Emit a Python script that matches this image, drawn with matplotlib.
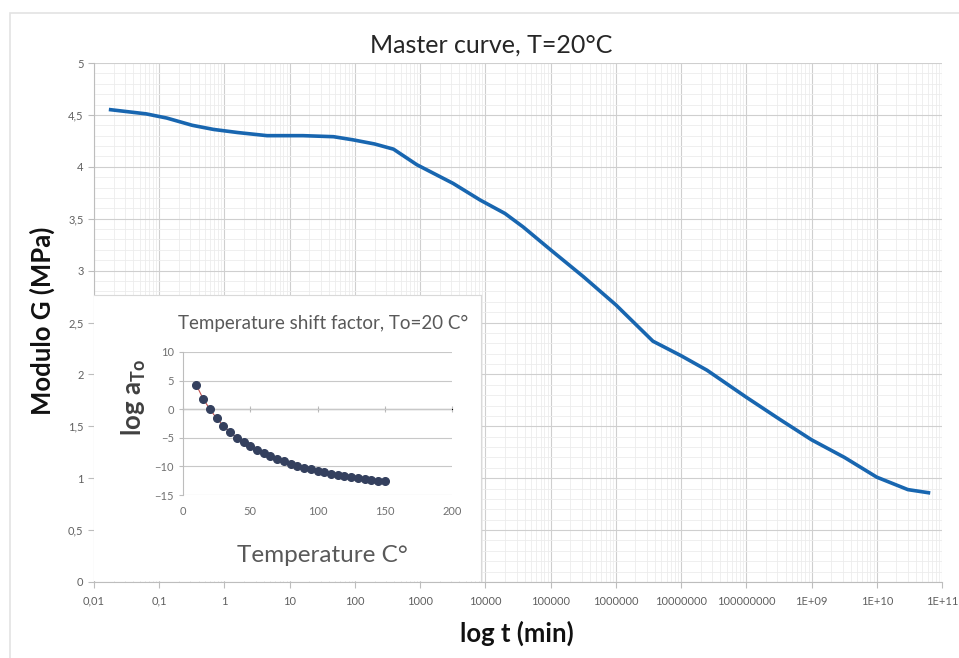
import numpy as np
import matplotlib.pyplot as plt
import matplotlib.ticker as mticker
from matplotlib.patches import Rectangle

plt.rcParams['font.family'] = ['Lato', 'DejaVu Sans']

# master curve
t_min = [0.018, 0.063, 0.13, 0.32, 0.68, 1.6, 4.5, 16, 47, 93, 200, 390, 890,
         3200, 8300, 2.0e4, 3.8e4, 1.0e5, 3.2e5, 1.0e6, 3.7e6, 1.0e7, 2.5e7,
         1.0e8, 3.2e8, 1.0e9, 3.2e9, 1.0e10, 3.0e10, 6.2e10]
modulo_g = [4.55, 4.51, 4.47, 4.40, 4.36, 4.33, 4.30, 4.30, 4.29, 4.26, 4.22,
            4.17, 4.02, 3.84, 3.68, 3.55, 3.42, 3.20, 2.94, 2.67, 2.32, 2.18,
            2.04, 1.78, 1.57, 1.37, 1.20, 1.01, 0.89, 0.86]

# shift factor (inset)
temp_c = [10, 15, 20, 25, 30, 35, 40, 45, 50, 55, 60, 65, 70, 75, 80, 85, 90,
          95, 100, 105, 110, 115, 120, 125, 130, 135, 140, 145, 150]
log_at = [4.2, 1.8, 0.0, -1.6, -2.9, -4.0, -5.0, -5.8, -6.5, -7.1, -7.7, -8.2,
          -8.7, -9.1, -9.5, -9.9, -10.2, -10.5, -10.8, -11.0, -11.3, -11.5,
          -11.7, -11.9, -12.0, -12.2, -12.4, -12.5, -12.6]

x_ticks = [10.0**k for k in range(-2, 12)]
x_labels = ['0,01', '0,1', '1', '10', '100', '1000', '10000', '100000',
            '1000000', '10000000', '100000000', '1E+09', '1E+10', '1E+11']
y_ticks = [0, 0.5, 1, 1.5, 2, 2.5, 3, 3.5, 4, 4.5, 5]
y_labels = ['0', '0,5', '1', '1,5', '2', '2,5', '3', '3,5', '4', '4,5', '5']

W, H = 959, 658
fig = plt.figure(figsize=(W / 100, H / 100), dpi=100)

def fx(px):
    return px / W

def fy(py):
    return 1 - py / H

# outer frame
fig.patches.append(Rectangle((fx(10), fy(H + 5)), 1.0, fy(13) - fy(H + 5),
                             transform=fig.transFigure, fill=False,
                             edgecolor='#e3e3e3', lw=1.2))

ax = fig.add_axes([fx(94), fy(582), fx(942) - fx(94), fy(63) - fy(582)])
ax.plot(t_min, modulo_g, color='#1866b0', lw=2.6, zorder=3)
ax.set_xscale('log')
ax.set_xlim(0.01, 1e11)
ax.set_ylim(0, 5)
ax.set_xticks(x_ticks)
ax.set_xticklabels(x_labels)
ax.xaxis.set_minor_locator(mticker.LogLocator(base=10, subs=np.arange(2, 10), numticks=100))
ax.xaxis.set_minor_formatter(mticker.NullFormatter())
ax.set_yticks(y_ticks)
ax.set_yticklabels(y_labels)
ax.yaxis.set_minor_locator(mticker.MultipleLocator(0.1))
ax.grid(which='major', color='#cfcfcf', lw=0.8)
ax.grid(which='minor', color='#ececec', lw=0.6)
ax.set_axisbelow(True)
for side in ['top', 'right']:
    ax.spines[side].set_visible(False)
for side in ['left', 'bottom']:
    ax.spines[side].set_color('#bdbdbd')
ax.tick_params(which='major', labelsize=8, colors='#bdbdbd', labelcolor='#606060', length=4)
ax.tick_params(axis='x', pad=6)
ax.tick_params(which='minor', length=0)
fig.text(fx(517), fy(633), 'log t (min)', fontsize=18.5, fontweight='bold',
         color='#111111', ha='center', va='center')
fig.text(fx(42), fy(321), 'Modulo G (MPa)', fontsize=18.5, fontweight='bold',
         color='#111111', ha='center', va='center', rotation=90)
fig.text(fx(491), fy(45), 'Master curve, T=20°C', fontsize=18, color='#262626',
         ha='center', va='center')

# white box behind the inset
box = fig.add_axes([fx(94), fy(581), fx(481) - fx(94), fy(295) - fy(581)])
box.set_xticks([])
box.set_yticks([])
box.set_facecolor('white')
for s in box.spines.values():
    s.set_color('#d9d9d9')
    s.set_linewidth(0.8)
box.spines['bottom'].set_visible(False)
box.spines['left'].set_visible(False)

ins = fig.add_axes([fx(183), fy(495), fx(452) - fx(183), fy(352) - fy(495)])
ins.set_facecolor('none')
ins.plot(temp_c, log_at, color='#c0504d', lw=0.8, zorder=2)
ins.plot(temp_c, log_at, 'o', color='#34405e', ms=5.5, zorder=3)
ins.set_xlim(0, 200)
ins.set_ylim(-15, 10)
ins.set_xticks([0, 50, 100, 150, 200])
ins.set_yticks([-15, -10, -5, 0, 5, 10])
ins.grid(axis='y', color='#c8c8c8', lw=0.8)
ins.set_axisbelow(True)
for side in ['top', 'right', 'bottom']:
    ins.spines[side].set_visible(False)
ins.spines['left'].set_color('#bdbdbd')
ins.tick_params(labelsize=8, labelcolor='#707070', colors='#bdbdbd', length=3)
ins.tick_params(axis='x', length=0, pad=8)
zero_ax = ins.secondary_xaxis(15 / 25)
zero_ax.set_xticks([0, 50, 100, 150, 200])
zero_ax.set_xticklabels([])
zero_ax.tick_params(direction='inout', length=4, colors='#bdbdbd')
zero_ax.spines['bottom'].set_color('#a6a6a6')
fig.text(fx(323), fy(323), 'Temperature shift factor, To=20 C°', fontsize=13.5,
         color='#595959', ha='center', va='center')
fig.text(fx(322), fy(555), 'Temperature C°', fontsize=17.5, color='#595959',
         ha='center', va='center')
fig.text(fx(134), fy(398), 'log a$_{\\mathregular{To}}$', fontsize=18.5,
         fontweight='bold', color='#404040', ha='center', va='center', rotation=90)

fig.savefig('out.png', dpi=100)
